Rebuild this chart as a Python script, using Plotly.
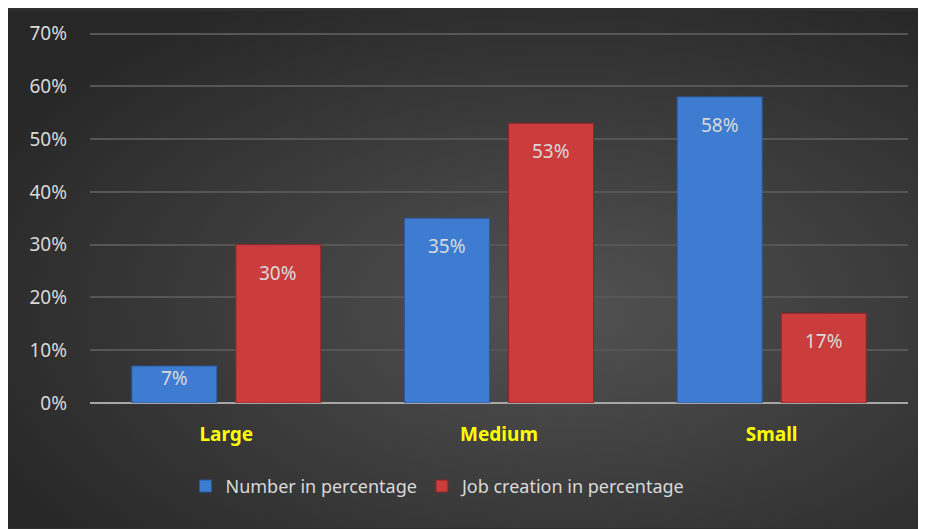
import base64
import plotly.graph_objects as go

categories = ["Large", "Medium", "Small"]
number_pct = [7, 35, 58]
job_pct = [30, 53, 17]
series_names = ["Number in percentage", "Job creation in percentage"]
y_ticks = [0, 10, 20, 30, 40, 50, 60, 70]
y_tick_text = ["0%", "10%", "20%", "30%", "40%", "50%", "60%", "70%"]

# page body has an 8px margin, so the figure is sized to the remaining window
W, H = 918, 521
L, R, T, B = 82, 18, 12, 126
pw, ph = W - L - R, H - T - B

BLUE = "#3d7cd1"
RED = "#cb3c3c"
TXT = "#d9d9d9"
FONT = "Noto Sans"

fig = go.Figure()
fig.add_trace(go.Bar(name=series_names[0], x=categories, y=number_pct,
                     marker=dict(color=BLUE, line=dict(color="#2a5a9a", width=1)),
                     hoverinfo="skip"))
fig.add_trace(go.Bar(name=series_names[1], x=categories, y=job_pct,
                     marker=dict(color=RED, line=dict(color="#8a2626", width=1)),
                     hoverinfo="skip"))

# data labels placed inside bars near the top
slot_shift = 52
for vals, sh in ((number_pct, -slot_shift), (job_pct, slot_shift)):
    for c, v in zip(categories, vals):
        fig.add_annotation(x=c, y=max(v - 5.3, v * 0.67), text=f"{v}%", showarrow=False,
                           xshift=sh, yanchor="middle",
                           font=dict(family=FONT, size=19, color=TXT))

svg = (f'<svg xmlns="http://www.w3.org/2000/svg" width="{W}" height="{H}">'
       '<defs><radialGradient id="g" cx="0.6" cy="0.58" r="0.7">'
       '<stop offset="0" stop-color="#525252"/><stop offset="1" stop-color="#272727"/>'
       f'</radialGradient></defs><rect width="{W}" height="{H}" fill="url(#g)"/></svg>')
src = "data:image/svg+xml;base64," + base64.b64encode(svg.encode()).decode()
fig.add_layout_image(dict(source=src, xref="paper", yref="paper",
                          x=-L / pw, y=1 + T / ph, sizex=W / pw, sizey=H / ph,
                          xanchor="left", yanchor="top", sizing="stretch", layer="below"))

fig.update_layout(
    width=W, height=H,
    margin=dict(l=L, r=R, t=T, b=B),
    paper_bgcolor="#2f2f2f",
    plot_bgcolor="rgba(0,0,0,0)",
    barmode="group", bargap=0.237, bargroupgap=0.183,
    font=dict(family=FONT, color=TXT),
    showlegend=True,
    legend=dict(orientation="h", x=0.426, xanchor="center", y=-84 / ph,
                yanchor="middle", font=dict(family=FONT, size=18, color=TXT),
                bgcolor="rgba(0,0,0,0)", itemwidth=30),
)
fig.update_xaxes(showgrid=False, showline=False, ticks="",
                 tickfont=dict(family=FONT, size=19, color="#ffff00", weight="bold"),
                 ticklabelstandoff=18)
fig.update_yaxes(range=[0, 72], tickmode="array", tickvals=y_ticks, ticktext=y_tick_text,
                 showgrid=True, gridcolor="#565656", gridwidth=1.5,
                 zeroline=True, zerolinecolor="#a6a6a6", zerolinewidth=2,
                 showline=False, ticks="",
                 tickfont=dict(family=FONT, size=19, color=TXT),
                 ticklabelstandoff=22)

fig.write_html("out.html")
